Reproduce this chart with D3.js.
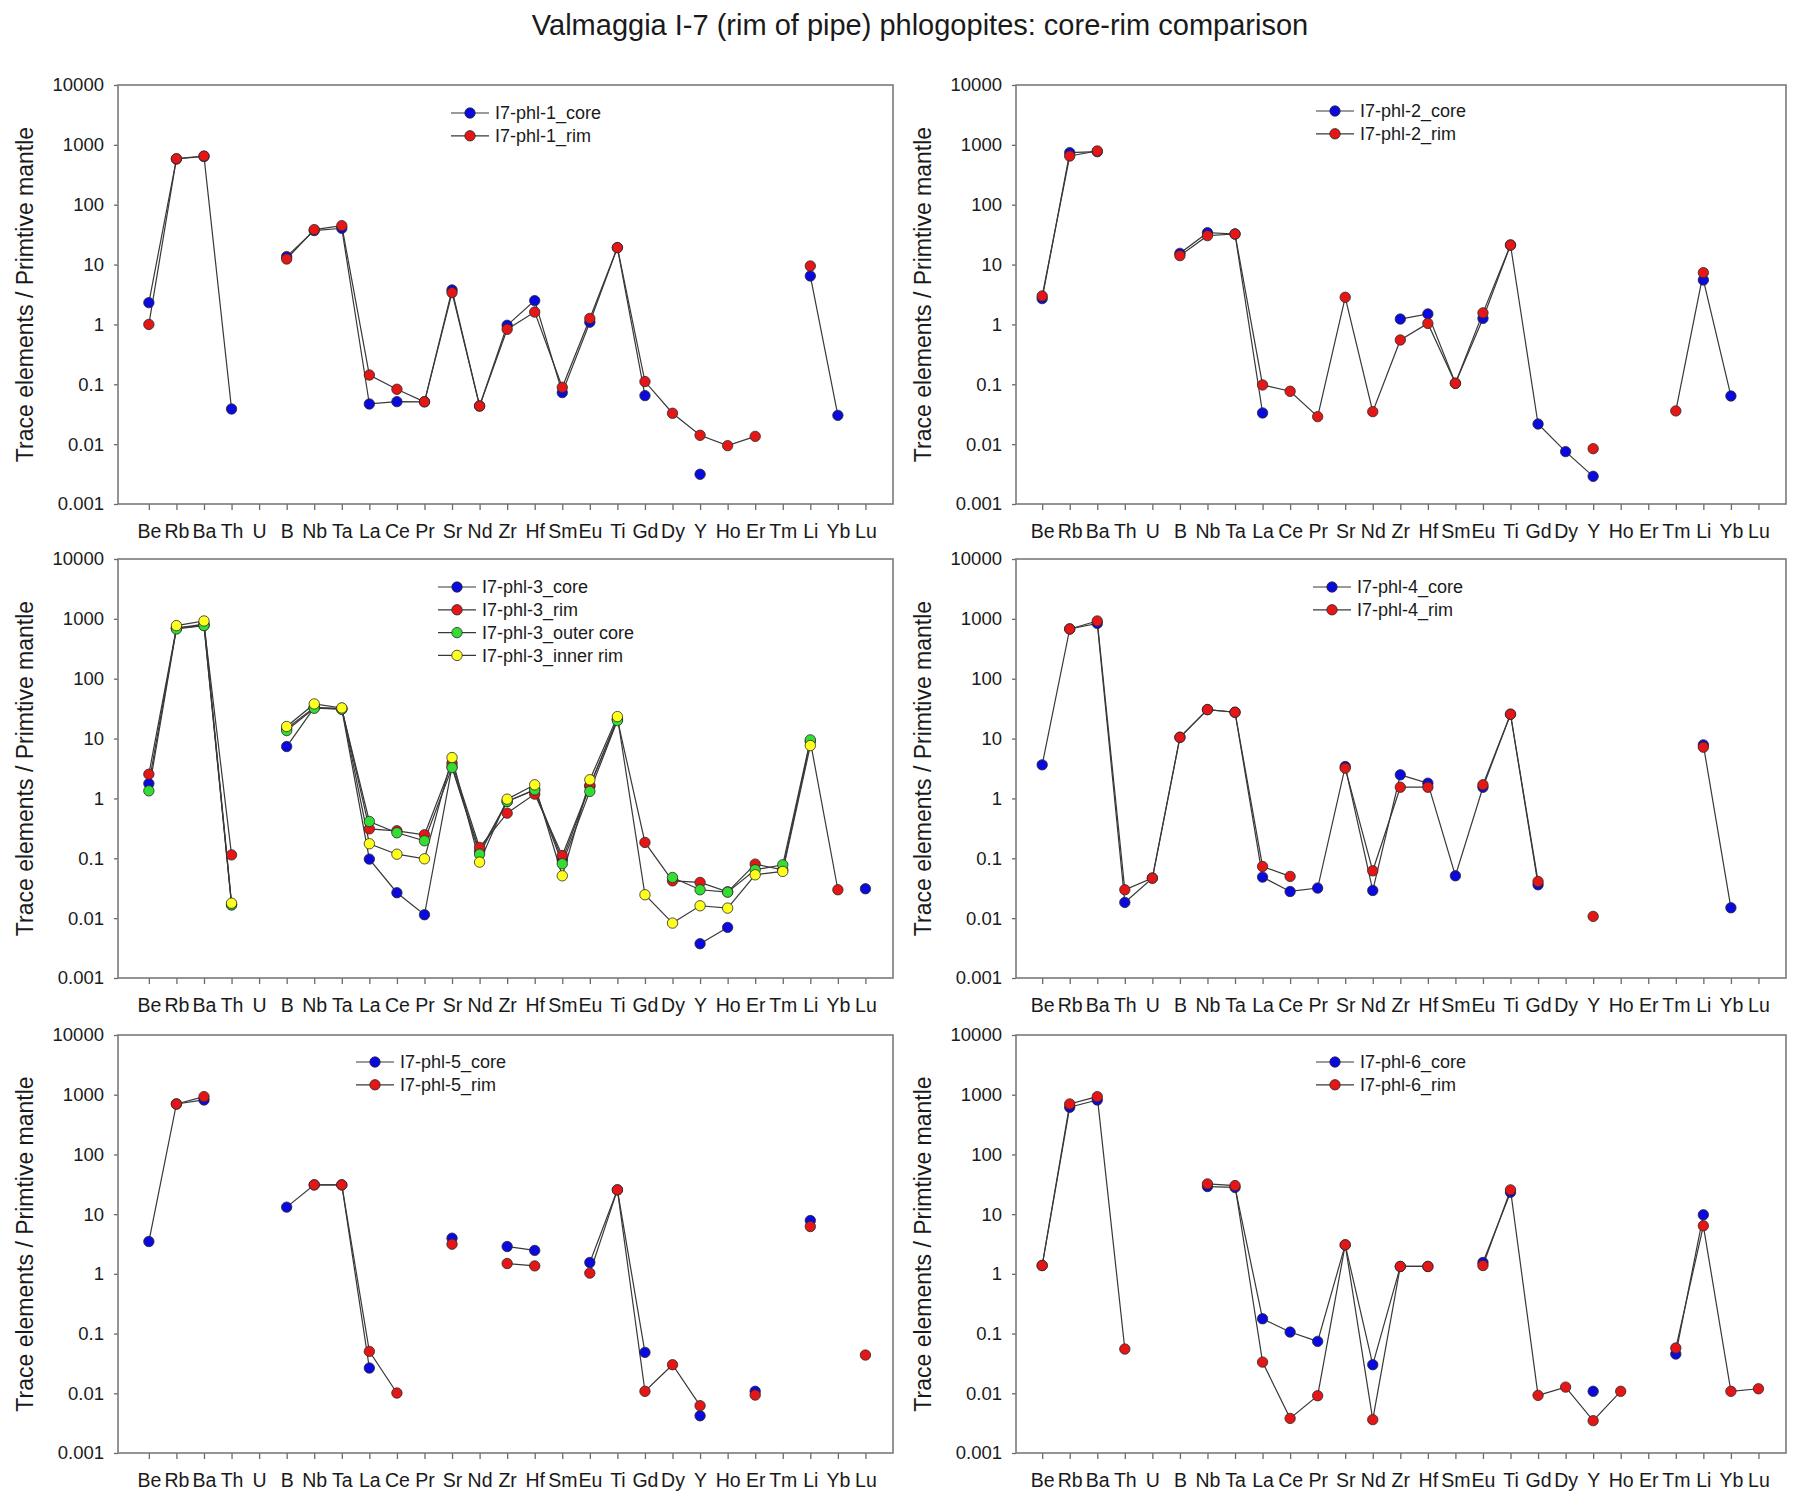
<!DOCTYPE html>
<html>
<head>
<meta charset="utf-8">
<script src="https://cdn.jsdelivr.net/npm/d3@7"></script>
<style>
  html, body { margin: 0; padding: 0; background: #ffffff; }
  svg { display: block; }
  text { font-family: "Liberation Sans", Arial, sans-serif; fill: #1a1a1a; }
</style>
</head>
<body>
<svg id="chart" width="1800" height="1509"></svg>
<script>
// ---------------- DATA ----------------
const chartTitle = "Valmaggia I-7 (rim of pipe) phlogopites: core-rim comparison";
const yAxisTitle = "Trace elements / Primtive mantle";
const elements = ["Be","Rb","Ba","Th","U","B","Nb","Ta","La","Ce","Pr","Sr","Nd","Zr","Hf","Sm","Eu","Ti","Gd","Dy","Y","Ho","Er","Tm","Li","Yb","Lu"];
const yTickValues = [0.001, 0.01, 0.1, 1, 10, 100, 1000, 10000];
const yTickLabels = ["0.001", "0.01", "0.1", "1", "10", "100", "1000", "10000"];

// I7-phl-1
const phl1_core = [2.31, 580, 640, 0.0387, null, 13.6, 37, 40.4, 0.0469, 0.0513, 0.051, 3.77, 0.0434, 0.968, 2.5, 0.0726, 1.09, 19.2, 0.0647, null, 0.00314, null, null, null, 6.45, 0.0303, null];
const phl1_rim  = [1.0, 588, 651, null, null, 12.4, 38.4, 44.7, 0.143, 0.0826, 0.051, 3.40, 0.0434, 0.83, 1.61, 0.089, 1.26, 19.2, 0.111, 0.0328, 0.01406, 0.00944, 0.0135, null, 9.48, null, null];
// I7-phl-2
const phl2_core = [2.7, 741, 770, null, null, 15.4, 34.1, 32.4, 0.0332, null, null, null, null, 1.23, 1.50, 0.104, 1.26, 21.2, 0.0217, 0.0075, 0.0029, null, null, null, 5.53, 0.0638, null];
const phl2_rim  = [2.99, 651, 790, null, null, 14.1, 30.4, 32.4, 0.0975, 0.0764, 0.0288, 2.84, 0.0349, 0.55, 1.04, 0.104, 1.56, 21.2, null, null, 0.0084, null, null, 0.0359, 7.33, null, null];
// I7-phl-3
const phl3_core      = [1.77, 700, 780, 0.0167, null, 7.36, 33, 31, 0.0968, 0.0266, 0.0114, 3.4, 0.13, 0.89, 1.4, 0.094, 1.6, 21, null, null, 0.00374, 0.007, null, null, null, null, 0.031];
const phl3_rim       = [2.54, 700, 811, 0.114, null, 14.7, 33, 32, 0.31, 0.288, 0.247, 3.9, 0.152, 0.568, 1.18, 0.111, 1.65, 21, 0.184, 0.042, 0.0395, 0.0275, 0.08, 0.064, 9, 0.0298, null];
const phl3_outerCore = [1.34, 678, 771, 0.0167, null, 13.6, 32.1, 31, 0.412, 0.267, 0.196, 3.28, 0.117, 0.89, 1.39, 0.081, 1.31, 20, null, 0.0478, 0.0298, 0.0272, 0.0643, 0.0778, 9.51, null, null];
const phl3_innerRim  = [null, 771, 922, 0.0178, null, 15.9, 37.9, 32.5, 0.175, 0.117, 0.098, 4.82, 0.0863, 0.972, 1.69, 0.051, 2.05, 23.3, 0.0246, 0.00827, 0.0161, 0.0147, 0.053, 0.0603, 7.65, null, null];
// I7-phl-4
const phl4_core = [3.64, 678, 840, 0.0183, 0.0467, 10.5, 30.5, 27.5, 0.0485, 0.0279, 0.0318, 3.41, 0.029, 2.48, 1.8, 0.051, 1.54, 25.5, 0.0361, null, null, null, null, null, 7.85, 0.0149, null];
const phl4_rim  = [null, 678, 922, 0.0298, 0.0467, 10.5, 30.5, 27.5, 0.073, 0.0498, null, 3.2, 0.0618, 1.54, 1.54, null, 1.69, 25.5, 0.041, null, 0.0107, null, null, null, 7.18, null, null];
// I7-phl-5
const phl5_core = [3.48, 700, 817, null, null, 13.1, 30.9, 30.9, 0.0265, null, null, 3.96, null, 2.87, 2.47, null, 1.55, 25.5, 0.0484, null, 0.0042, null, 0.0108, null, 7.82, null, null];
const phl5_rim  = [null, 700, 929, null, null, null, 30.9, 30.9, 0.0503, 0.0101, null, 3.14, null, 1.49, 1.36, null, 1.03, 25.5, 0.0108, 0.0301, 0.0062, null, 0.00935, null, 6.2, null, 0.0437];
// I7-phl-6
const phl6_core = [1.38, 617, 817, null, null, null, 29, 28, 0.177, 0.106, 0.074, 3.06, 0.0301, 1.33, 1.33, null, 1.55, 23.3, null, null, 0.0108, null, null, 0.0454, 9.75, null, null];
const phl6_rim  = [1.38, 700, 929, 0.0551, null, null, 32.1, 30.1, 0.0333, 0.0038, 0.0091, 3.06, 0.00362, 1.33, 1.33, null, 1.38, 25.5, 0.00923, 0.0127, 0.00348, 0.0108, null, 0.0573, 6.38, 0.0108, 0.0119];

const panelSeries = [
  [{name: "I7-phl-1_core", values: phl1_core, color: "blue"}, {name: "I7-phl-1_rim", values: phl1_rim, color: "red"}],
  [{name: "I7-phl-2_core", values: phl2_core, color: "blue"}, {name: "I7-phl-2_rim", values: phl2_rim, color: "red"}],
  [{name: "I7-phl-3_core", values: phl3_core, color: "blue"}, {name: "I7-phl-3_rim", values: phl3_rim, color: "red"},
   {name: "I7-phl-3_outer core", values: phl3_outerCore, color: "green"}, {name: "I7-phl-3_inner rim", values: phl3_innerRim, color: "yellow"}],
  [{name: "I7-phl-4_core", values: phl4_core, color: "blue"}, {name: "I7-phl-4_rim", values: phl4_rim, color: "red"}],
  [{name: "I7-phl-5_core", values: phl5_core, color: "blue"}, {name: "I7-phl-5_rim", values: phl5_rim, color: "red"}],
  [{name: "I7-phl-6_core", values: phl6_core, color: "blue"}, {name: "I7-phl-6_rim", values: phl6_rim, color: "red"}]
];

// ---------------- STYLE / LAYOUT ----------------
const fills = {blue: "#0a0ade", red: "#e41616", green: "#33dd33", yellow: "#ffff1e"};
const cols = [{x0: 118, x1: 893, d0: -0.12}, {x0: 1016, x1: 1786, d0: 0.05}];
const rows = [{y0: 85, y1: 504}, {y0: 559, y1: 978}, {y0: 1035, y1: 1453}];
const legendPos = [[352, 28], [319, 26], [339, 28], [316, 28], [257, 27], [319, 27]];
const markerR = 5.2;

const svg = d3.select("#chart");
svg.append("rect").attr("width", 1800).attr("height", 1509).attr("fill", "#fff");

svg.append("text")
  .attr("x", 920).attr("y", 35)
  .attr("text-anchor", "middle")
  .attr("font-size", 29)
  .text(chartTitle);

panelSeries.forEach((series, p) => {
  const col = cols[p % 2], row = rows[Math.floor(p / 2)];
  const x = d3.scaleLinear().domain([col.d0, 28]).range([col.x0, col.x1]);
  const y = d3.scaleLog().domain([0.001, 10000]).range([row.y1, row.y0]);
  const g = svg.append("g");

  // x axis
  const xAx = g.append("g")
    .attr("transform", `translate(0,${row.y1})`)
    .call(d3.axisBottom(x).tickValues(d3.range(1, elements.length + 1))
      .tickFormat(i => elements[i - 1]).tickSize(6).tickPadding(14));
  xAx.select(".domain").remove();
  xAx.selectAll(".tick line").attr("stroke", "#6a6a6a").attr("stroke-width", 1.3);
  xAx.selectAll(".tick text").attr("font-size", 19.5).attr("fill", "#1a1a1a")
    .attr("font-family", '"Liberation Sans", Arial, sans-serif');

  // y axis
  const yAx = g.append("g")
    .attr("transform", `translate(${col.x0},0)`)
    .call(d3.axisLeft(y).tickValues(yTickValues)
      .tickFormat((d, i) => yTickLabels[i]).tickSize(4).tickPadding(10));
  yAx.select(".domain").remove();
  yAx.selectAll(".tick line").attr("stroke", "#6a6a6a").attr("stroke-width", 1.3);
  yAx.selectAll(".tick text").attr("font-size", 18.5).attr("fill", "#1a1a1a")
    .attr("font-family", '"Liberation Sans", Arial, sans-serif');

  // frame
  g.append("rect")
    .attr("x", col.x0).attr("y", row.y0)
    .attr("width", col.x1 - col.x0).attr("height", row.y1 - row.y0)
    .attr("fill", "none").attr("stroke", "#7a7a7a").attr("stroke-width", 1.6);

  // y title
  g.append("text")
    .attr("transform", `translate(${col.x0 - 93},${(row.y0 + row.y1) / 2}) rotate(-90)`)
    .attr("text-anchor", "middle")
    .attr("dominant-baseline", "central")
    .attr("font-size", 23)
    .text(yAxisTitle);

  const line = d3.line()
    .defined(d => d != null)
    .x((d, i) => x(i + 1))
    .y(d => y(d));

  series.forEach(s => {
    g.append("path")
      .datum(s.values)
      .attr("d", line)
      .attr("fill", "none")
      .attr("stroke", "#383838")
      .attr("stroke-width", 1.2);
  });
  series.forEach(s => {
    g.selectAll(null)
      .data(s.values.map((v, i) => ({v, i})).filter(d => d.v != null))
      .join("circle")
      .attr("cx", d => x(d.i + 1))
      .attr("cy", d => y(d.v))
      .attr("r", markerR)
      .attr("fill", fills[s.color])
      .attr("stroke", "#2a2a2a")
      .attr("stroke-width", 0.8);
  });

  // legend
  const [lx, ly] = legendPos[p];
  series.forEach((s, k) => {
    const cx = col.x0 + lx, cy = row.y0 + ly + k * 22.8;
    g.append("line").attr("x1", cx - 19).attr("x2", cx + 19).attr("y1", cy).attr("y2", cy)
      .attr("stroke", "#383838").attr("stroke-width", 1.2);
    g.append("circle").attr("cx", cx).attr("cy", cy).attr("r", markerR)
      .attr("fill", fills[s.color]).attr("stroke", "#2a2a2a").attr("stroke-width", 0.8);
    g.append("text").attr("x", cx + 25).attr("y", cy).attr("dy", "0.35em")
      .attr("font-size", 18).text(s.name);
  });
});
</script>
</body>
</html>
